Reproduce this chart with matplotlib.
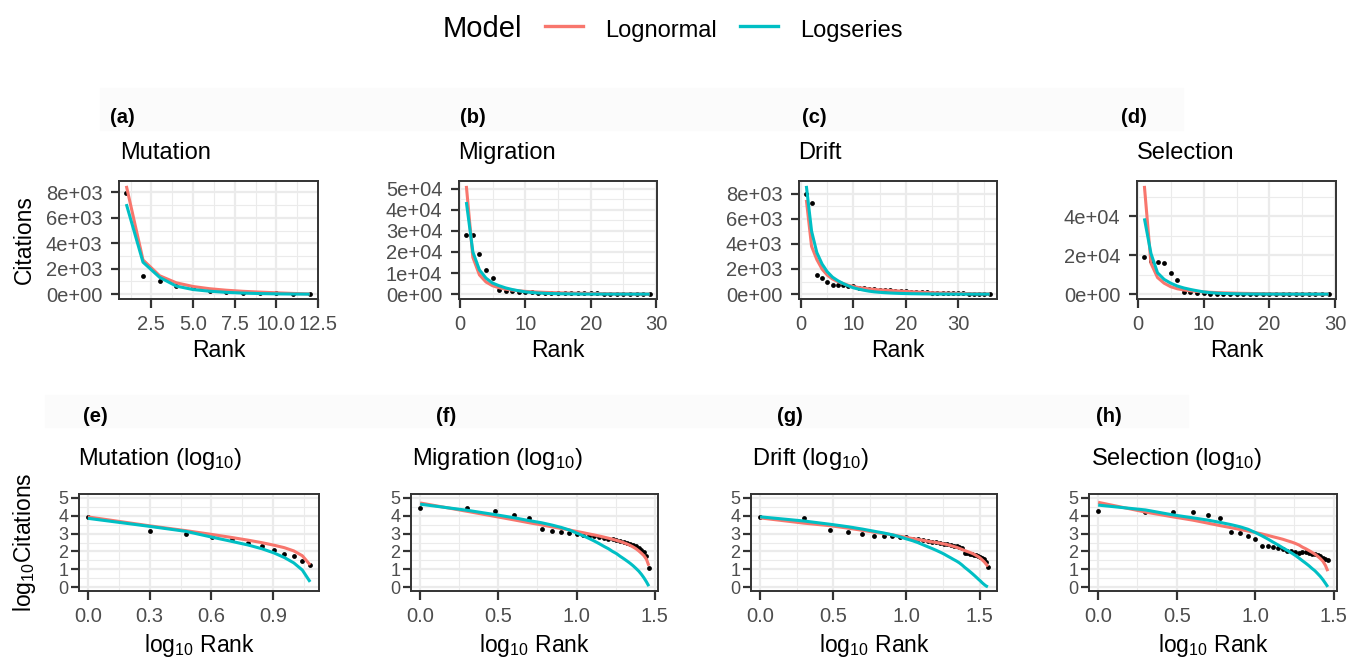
import matplotlib
matplotlib.use("Agg")
import numpy as np
import matplotlib.pyplot as plt
from matplotlib.lines import Line2D
from matplotlib.patches import Rectangle

plt.rcParams['font.family'] = ['Liberation Sans', 'DejaVu Sans']
plt.rcParams['mathtext.fontset'] = 'custom'
plt.rcParams['mathtext.rm'] = 'Liberation Sans'
plt.rcParams['mathtext.it'] = 'Liberation Sans:italic'
plt.rcParams['mathtext.bf'] = 'Liberation Sans:bold'

# ---------------- data (log10 citations by rank) ----------------
panel_names = ["Mutation", "Migration", "Drift", "Selection"]
top_tags = ["(a)", "(b)", "(c)", "(d)"]
bottom_tags = ["(e)", "(f)", "(g)", "(h)"]
model_names = ["Lognormal", "Logseries"]

mutation_obs = [3.90, 3.16, 3.00, 2.80, 2.70, 2.45, 2.30, 2.10, 1.85, 1.72, 1.45, 1.25]
mutation_lognormal = [3.93, 3.43, 3.16, 2.95, 2.78, 2.63, 2.49, 2.35, 2.21, 2.03, 1.76, 1.25]
mutation_logseries = [3.85, 3.40, 3.12, 2.80, 2.56, 2.36, 2.15, 1.92, 1.66, 1.36, 0.96, 0.30]

migration_obs = [4.45, 4.45, 4.28, 4.06, 3.88, 3.27, 3.12, 3.10, 3.04, 2.97, 2.92, 2.88, 2.84, 2.80,
                 2.76, 2.72, 2.68, 2.64, 2.60, 2.55, 2.48, 2.42, 2.36, 2.28, 2.18, 2.08, 1.95, 1.75, 1.05]
migration_lognormal = [4.71, 4.24, 3.96, 3.76, 3.60, 3.48, 3.37, 3.28, 3.20, 3.12, 3.05, 2.98, 2.92, 2.86,
                       2.80, 2.74, 2.68, 2.62, 2.56, 2.49, 2.42, 2.34, 2.25, 2.15, 2.03, 1.90, 1.76, 1.56, 1.20]
migration_logseries = [4.64, 4.30, 4.06, 3.88, 3.72, 3.60, 3.47, 3.34, 3.20, 3.03, 2.88, 2.73, 2.58, 2.43,
                       2.28, 2.15, 2.00, 1.88, 1.73, 1.60, 1.47, 1.34, 1.20, 1.05, 0.90, 0.72, 0.52, 0.30, 0.06]

drift_obs = [3.90, 3.86, 3.18, 3.10, 3.00, 2.87, 2.85, 2.84, 2.83, 2.80, 2.72, 2.67, 2.62, 2.58, 2.55, 2.52,
             2.48, 2.44, 2.40, 2.36, 2.32, 2.28, 2.25, 2.22, 1.92, 1.90, 1.88, 1.85, 1.82, 1.78, 1.74, 1.70,
             1.64, 1.56, 1.42, 1.12]
drift_lognormal = [3.875, 3.58, 3.44, 3.30, 3.18, 3.08, 3.00, 2.93, 2.85, 2.78, 2.72, 2.67, 2.62, 2.57, 2.53,
                   2.50, 2.46, 2.42, 2.38, 2.33, 2.28, 2.23, 2.17, 2.11, 2.05, 2.00, 1.95, 1.90, 1.84, 1.77,
                   1.70, 1.62, 1.52, 1.42, 1.30, 1.16]
drift_logseries = [3.935, 3.70, 3.52, 3.38, 3.25, 3.13, 3.03, 2.93, 2.82, 2.70, 2.60, 2.49, 2.37, 2.26, 2.16,
                   2.06, 1.96, 1.86, 1.75, 1.65, 1.55, 1.46, 1.36, 1.24, 1.11, 1.00, 0.89, 0.78, 0.67, 0.56,
                   0.45, 0.35, 0.24, 0.15, 0.07, 0.02]

selection_obs = [4.28, 4.23, 4.22, 4.21, 4.04, 3.85, 3.08, 3.04, 2.89, 2.68, 2.30, 2.28, 2.26, 2.20, 2.12,
                 2.05, 2.00, 1.96, 1.94, 1.96, 1.95, 1.92, 1.88, 1.84, 1.78, 1.72, 1.66, 1.60, 1.52]
selection_lognormal = [4.745, 4.20, 3.93, 3.75, 3.58, 3.44, 3.33, 3.23, 3.14, 3.06, 2.98, 2.90, 2.82, 2.75,
                       2.68, 2.60, 2.53, 2.45, 2.36, 2.24, 2.15, 2.05, 1.95, 1.85, 1.73, 1.60, 1.45, 1.22, 0.90]
selection_logseries = [4.59, 4.32, 4.04, 3.88, 3.75, 3.62, 3.50, 3.38, 3.24, 3.06, 2.88, 2.70, 2.52, 2.36,
                       2.20, 2.06, 1.92, 1.78, 1.63, 1.48, 1.34, 1.20, 1.05, 0.92, 0.76, 0.60, 0.42, 0.22, 0.02]

observed = [mutation_obs, migration_obs, drift_obs, selection_obs]
lognormal = [mutation_lognormal, migration_lognormal, drift_lognormal, selection_lognormal]
logseries = [mutation_logseries, migration_logseries, drift_logseries, selection_logseries]

top_xticks = [[2.5, 5.0, 7.5, 10.0, 12.5], [0, 10, 20, 30], [0, 10, 20, 30], [0, 10, 20, 30]]
top_xfmt = ["{:.1f}", "{:.0f}", "{:.0f}", "{:.0f}"]
top_yticks = [[0, 2e3, 4e3, 6e3, 8e3], [0, 1e4, 2e4, 3e4, 4e4, 5e4], [0, 2e3, 4e3, 6e3, 8e3], [0, 2e4, 4e4]]
bottom_xticks = [[0.0, 0.3, 0.6, 0.9], [0.0, 0.5, 1.0, 1.5], [0.0, 0.5, 1.0, 1.5], [0.0, 0.5, 1.0, 1.5]]
bottom_yticks = [0, 1, 2, 3, 4, 5]

# ---------------- style ----------------
RED = "#F8766D"
CYAN = "#00BFC4"
GRID = "#EBEBEB"
BORDER = "#333333"
TICKTXT = "#4D4D4D"

W, H = 1358, 658
fig = plt.figure(figsize=(W / 100, H / 100), dpi=100)


def fx(px):
    return px / W


def fy(py):
    return 1 - py / H


def add_ax(l, r, t, b):
    return fig.add_axes([fx(l), fy(b), (r - l) / W, (b - t) / H])


def minor_of(ticks, lo, hi):
    t = list(ticks)
    step = t[1] - t[0]
    mids = [(a + b) / 2 for a, b in zip(t[:-1], t[1:])]
    mids = [t[0] - step / 2] + mids + [t[-1] + step / 2]
    return [m for m in mids if lo < m < hi]


def style_ax(ax, xt, yt, xlim, ylim, xlabels, ylabels, ysize, ypad):
    ax.set_xlim(*xlim)
    ax.set_ylim(*ylim)
    for v in minor_of(xt, *xlim):
        ax.axvline(v, color=GRID, lw=0.8, zorder=0)
    for v in minor_of(yt, *ylim):
        ax.axhline(v, color=GRID, lw=0.8, zorder=0)
    for v in xt:
        if xlim[0] <= v <= xlim[1]:
            ax.axvline(v, color=GRID, lw=1.6, zorder=0)
    for v in yt:
        if ylim[0] <= v <= ylim[1]:
            ax.axhline(v, color=GRID, lw=1.6, zorder=0)
    ax.set_xticks(xt)
    ax.set_xticklabels(xlabels)
    ax.set_yticks(yt)
    ax.set_yticklabels(ylabels)
    ax.tick_params(axis='x', length=6.5, width=1.6, color=BORDER, labelcolor=TICKTXT,
                   labelsize=14.5, pad=5)
    ax.tick_params(axis='y', length=6.0, width=1.6, color=BORDER, labelcolor=TICKTXT,
                   labelsize=ysize, pad=ypad)
    for s in ax.spines.values():
        s.set_color(BORDER)
        s.set_linewidth(1.4)
    ax.set_facecolor("white")


def pad_lim(values, frac=0.045):
    lo, hi = min(values), max(values)
    r = hi - lo
    return (lo - frac * r, hi + frac * r)


# very light header bands
fig.patches.append(Rectangle((fx(100), fy(130)), fx(1183) - fx(100), fy(88) - fy(130),
                             transform=fig.transFigure, color="#FBFBFB", zorder=0))
fig.patches.append(Rectangle((fx(45), fy(427)), fx(1188) - fx(45), fy(395) - fy(427),
                             transform=fig.transFigure, color="#FBFBFB", zorder=0))

top_lr = [(119, 318), (459, 657), (799, 997), (1137, 1336)]
bot_lr = [(79, 319), (411, 658), (751, 997), (1089, 1337)]
top_tag_x = [110, 460, 802, 1121]
top_title_x = [120, 458, 798, 1137]
bot_tag_x = [83, 436, 777, 1096]
bot_title_x = [78, 412, 752, 1091]

for i in range(4):
    obs = np.array(observed[i])
    ln = np.array(lognormal[i])
    ls = np.array(logseries[i])
    rank = np.arange(1, len(obs) + 1)

    # ----- top (linear) -----
    l, r = top_lr[i]
    ax = add_ax(l, r, 181, 299)
    ax.scatter(rank, 10 ** obs, s=12, color="black", zorder=3, linewidths=0)
    ax.plot(rank, 10 ** ln, color=RED, lw=2.2, zorder=4, solid_capstyle='butt')
    ax.plot(rank, 10 ** ls, color=CYAN, lw=2.2, zorder=5, solid_capstyle='butt')
    xlim = pad_lim(rank, 0.04)
    ylim = pad_lim(np.concatenate([10 ** obs, 10 ** ln, 10 ** ls]), 0.045)
    yt = top_yticks[i]
    style_ax(ax, top_xticks[i], yt, xlim, ylim,
             [top_xfmt[i].format(v) for v in top_xticks[i]],
             ["{:.0e}".format(v) for v in yt], ysize=14.5, ypad=6)
    fig.text(fx(top_tag_x[i]), fy(123), top_tags[i], fontsize=14.5, fontweight='bold',
             ha='left', va='baseline')
    fig.text(fx(top_title_x[i]), fy(159), panel_names[i], fontsize=17,
             ha='left', va='baseline')
    fig.text(fx((l + r) / 2), fy(357), "Rank", fontsize=16.5, ha='center', va='baseline')

    # ----- bottom (log10) -----
    l, r = bot_lr[i]
    ax = add_ax(l, r, 494, 591)
    lx = np.log10(rank)
    ax.scatter(lx, obs, s=12, color="black", zorder=3, linewidths=0)
    ax.plot(lx, ln, color=RED, lw=2.2, zorder=4, solid_capstyle='butt')
    ax.plot(lx, ls, color=CYAN, lw=2.2, zorder=5, solid_capstyle='butt')
    xlim = pad_lim(lx, 0.04)
    xt = bottom_xticks[i]
    style_ax(ax, xt, bottom_yticks, xlim, (-0.21, 5.21),
             ["{:.1f}".format(v) for v in xt],
             [str(v) for v in bottom_yticks], ysize=13, ypad=1.5)
    fig.text(fx(bot_tag_x[i]), fy(422), bottom_tags[i], fontsize=14.5, fontweight='bold',
             ha='left', va='baseline')
    fig.text(fx(bot_title_x[i]), fy(465),
             panel_names[i] + r" $\left(\mathrm{log}_{10}\right)$", fontsize=17,
             ha='left', va='baseline')
    fig.text(fx((l + r) / 2), fy(652), r"$\mathrm{log}_{10}$ Rank", fontsize=16.5,
             ha='center', va='baseline')

# y axis titles
fig.text(fx(24), fy(240), "Citations", fontsize=16.5, rotation=90, ha='center', va='center')
fig.text(fx(24), fy(542), r"$\mathrm{log}_{10}\mathrm{Citations}$", fontsize=16.5, rotation=90,
         ha='center', va='center')

# legend
fig.text(fx(443), fy(37), "Model", fontsize=21, ha='left', va='baseline')
fig.add_artist(Line2D([fx(545), fx(583)], [fy(26), fy(26)], color=RED, lw=2.4,
                      transform=fig.transFigure))
fig.text(fx(605), fy(37), model_names[0], fontsize=17, ha='left', va='baseline')
fig.add_artist(Line2D([fx(740), fx(778)], [fy(26), fy(26)], color=CYAN, lw=2.4,
                      transform=fig.transFigure))
fig.text(fx(800), fy(37), model_names[1], fontsize=17, ha='left', va='baseline')

fig.savefig("out.png", dpi=100, facecolor="white")
